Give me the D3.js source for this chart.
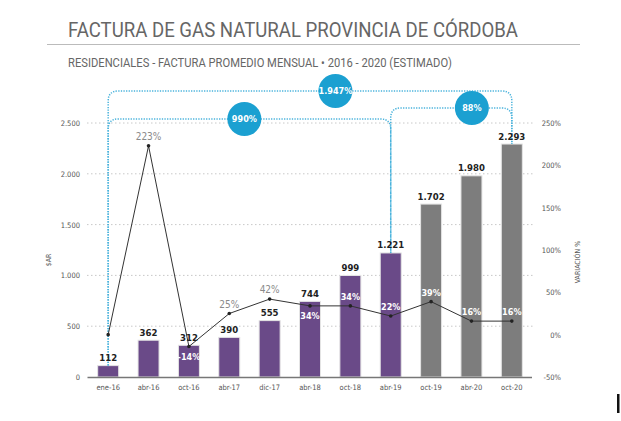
<!DOCTYPE html>
<html>
<head>
<meta charset="utf-8">
<script src="https://cdn.jsdelivr.net/npm/d3@7"></script>
<style>
  html, body { margin: 0; padding: 0; background: #fff; }
  svg { display: block; }
  text { font-family: "Liberation Sans Narrow", "DejaVu Sans Condensed", Roboto, sans-serif; }
</style>
</head>
<body>
<div id="chart"></div>
<script>
// datos
const periodos = ["ene-16", "abr-16", "oct-16", "abr-17", "dic-17", "abr-18", "oct-18", "abr-19", "oct-19", "abr-20", "oct-20"];
const factura = [112, 362, 312, 390, 555, 744, 999, 1221, 1702, 1980, 2293];
const variacion = [0, 223, -14, 25, 42, 34, 34, 22, 39, 16, 16];
const estimado = [false, false, false, false, false, false, false, false, true, true, true];
const ticksPesos = [0, 500, 1000, 1500, 2000, 2500];
const ticksVar = [-50, 0, 50, 100, 150, 200, 250];
const saltos = [
  { desde: "ene-16", hasta: "oct-20", texto: "1.947%" },
  { desde: "ene-16", hasta: "abr-19", texto: "990%" },
  { desde: "abr-19", hasta: "oct-20", texto: "88%" }
];

const W = 621, H = 421;
const svg = d3.select('#chart').append('svg').attr('width', W).attr('height', H);

const loc = d3.formatLocale({ decimal: ",", thousands: ".", grouping: [3], currency: ["$", ""] });
const fmt = loc.format(",d");

// titulo
svg.append('text').text('FACTURA DE GAS NATURAL PROVINCIA DE CÓRDOBA')
  .attr('x', 68).attr('y', 37).attr('fill', '#666').style('font-family', 'Roboto, sans-serif')
  .style('font-size', '20px').attr('textLength', 450).attr('lengthAdjust', 'spacingAndGlyphs');
svg.append('line').attr('x1', 47).attr('x2', 580).attr('y1', 44.5).attr('y2', 44.5)
  .attr('stroke', '#bbb').attr('stroke-width', 1.2);
svg.append('text').text('RESIDENCIALES - FACTURA PROMEDIO MENSUAL • 2016 - 2020 (ESTIMADO)')
  .attr('x', 68).attr('y', 66.5).attr('fill', '#666').style('font-family', 'Roboto, sans-serif')
  .style('font-size', '12.5px').attr('textLength', 384).attr('lengthAdjust', 'spacingAndGlyphs');

// escalas
const x = d3.scaleBand().domain(periodos).range([88, 532]).paddingInner(0.48).paddingOuter(0.24);
const y = d3.scaleLinear().domain([0, 2500]).range([377, 123]);
const yv = d3.scaleLinear().domain([-50, 250]).range([377, 123]);
const cx = p => x(p) + x.bandwidth() / 2;

// grilla
svg.append('g').selectAll('line').data(ticksPesos.slice(1)).join('line')
  .attr('x1', 87).attr('x2', 533).attr('y1', d => y(d)).attr('y2', d => y(d))
  .attr('stroke', '#c8c8c8').attr('stroke-width', 1).attr('stroke-dasharray', '1.5,2.5');

// ejes
const ejeY = svg.append('g').attr('transform', 'translate(80,0)')
  .call(d3.axisLeft(y).tickValues(ticksPesos).tickFormat(fmt).tickSize(0).tickPadding(0));
const ejeV = svg.append('g').attr('transform', 'translate(561,0)')
  .call(d3.axisLeft(yv).tickValues(ticksVar).tickFormat(d => d + '%').tickSize(0).tickPadding(0));
const ejeX = svg.append('g').attr('transform', 'translate(0,377)')
  .call(d3.axisBottom(x).tickSize(0).tickPadding(8));
[ejeY, ejeV, ejeX].forEach(g => {
  g.select('.domain').remove();
  g.selectAll('text').attr('fill', '#555').style('font-size', '7.5px')
    .style('font-family', '"Liberation Sans Narrow", "DejaVu Sans Condensed", Roboto, sans-serif');
});

svg.append('text').text('$AR').attr('transform', 'translate(51,260) rotate(-90)')
  .attr('text-anchor', 'middle').attr('fill', '#555').style('font-size', '7px');
svg.append('text').text('VARIACIÓN %').attr('transform', 'translate(580,262) rotate(-90)')
  .attr('text-anchor', 'middle').attr('fill', '#555').style('font-size', '7px');

// barras
svg.append('g').selectAll('rect').data(periodos).join('rect')
  .attr('x', d => x(d)).attr('width', x.bandwidth())
  .attr('y', (d, i) => y(factura[i])).attr('height', (d, i) => y(0) - y(factura[i]))
  .attr('fill', (d, i) => estimado[i] ? '#7d7d7d' : '#6a4a88')
  .attr('stroke', '#e4e4e4').attr('stroke-width', 1);

svg.append('line').attr('x1', 87.5).attr('x2', 532).attr('y1', 377.5).attr('y2', 377.5)
  .attr('stroke', '#777').attr('stroke-width', 1.5);

// corchetes de variacion acumulada
const niveles = [91, 119, 108];
const posCirculo = [0.563, 0.482, 0.67];
const azul = '#1ba0d1';
const gSaltos = svg.append('g');
saltos.forEach((s, k) => {
  const x1 = cx(s.desde), x2 = cx(s.hasta);
  const b1 = y(factura[periodos.indexOf(s.desde)]), b2 = y(factura[periodos.indexOf(s.hasta)]);
  const top = niveles[k], r = 10;
  gSaltos.append('path')
    .attr('d', `M ${x1} ${b1} L ${x1} ${top + r} Q ${x1} ${top} ${x1 + r} ${top} L ${x2 - r} ${top} Q ${x2} ${top} ${x2} ${top + r} L ${x2} ${b2}`)
    .attr('fill', 'none').attr('stroke', '#4ab3dc').attr('stroke-width', 1.5).attr('stroke-dasharray', '1.3,1.3');
});
saltos.forEach((s, k) => {
  const x1 = cx(s.desde), x2 = cx(s.hasta);
  const px = x1 + (x2 - x1) * posCirculo[k];
  gSaltos.append('circle').attr('cx', px).attr('cy', niveles[k]).attr('r', 17).attr('fill', azul);
  gSaltos.append('text').text(s.texto).attr('x', px).attr('y', niveles[k] + 3.2)
    .attr('text-anchor', 'middle').attr('fill', '#fff').style('font-weight', 'bold').style('font-size', '9px');
});

// etiquetas de valor
svg.append('g').selectAll('text').data(periodos).join('text')
  .text((d, i) => fmt(factura[i]))
  .attr('x', d => cx(d)).attr('y', (d, i) => y(factura[i]) - 4.5)
  .attr('text-anchor', 'middle').attr('fill', '#222').style('font-weight', 'bold').style('font-size', '9.5px');

// linea de variacion
const linea = d3.line().x((d, i) => cx(periodos[i])).y(d => yv(d));
svg.append('path').datum(variacion).attr('d', linea)
  .attr('fill', 'none').attr('stroke', '#333').attr('stroke-width', 1);
svg.append('g').selectAll('circle').data(variacion).join('circle')
  .attr('cx', (d, i) => cx(periodos[i])).attr('cy', d => yv(d)).attr('r', 1.8).attr('fill', '#222');

// etiquetas de variacion
variacion.forEach((v, i) => {
  if (i === 0) return;
  const py = yv(v);
  const barTop = y(factura[i]);
  const labelVal = barTop - 8;
  let ly = py - 6;
  if (Math.abs((py - 9) - labelVal) < 10) ly = py + 13;
  const dentro = ly - 8 > barTop;
  svg.append('text').text(v + '%')
    .attr('x', cx(periodos[i])).attr('y', ly)
    .attr('text-anchor', 'middle')
    .attr('fill', dentro ? '#fff' : '#8a8a8a')
    .style('font-weight', dentro ? 'bold' : 'normal')
    .style('font-size', dentro ? '9px' : '10px');
});

// cursor del original
svg.append('rect').attr('x', 617).attr('y', 394).attr('width', 2.5).attr('height', 19).attr('fill', '#111');
</script>
</body>
</html>
